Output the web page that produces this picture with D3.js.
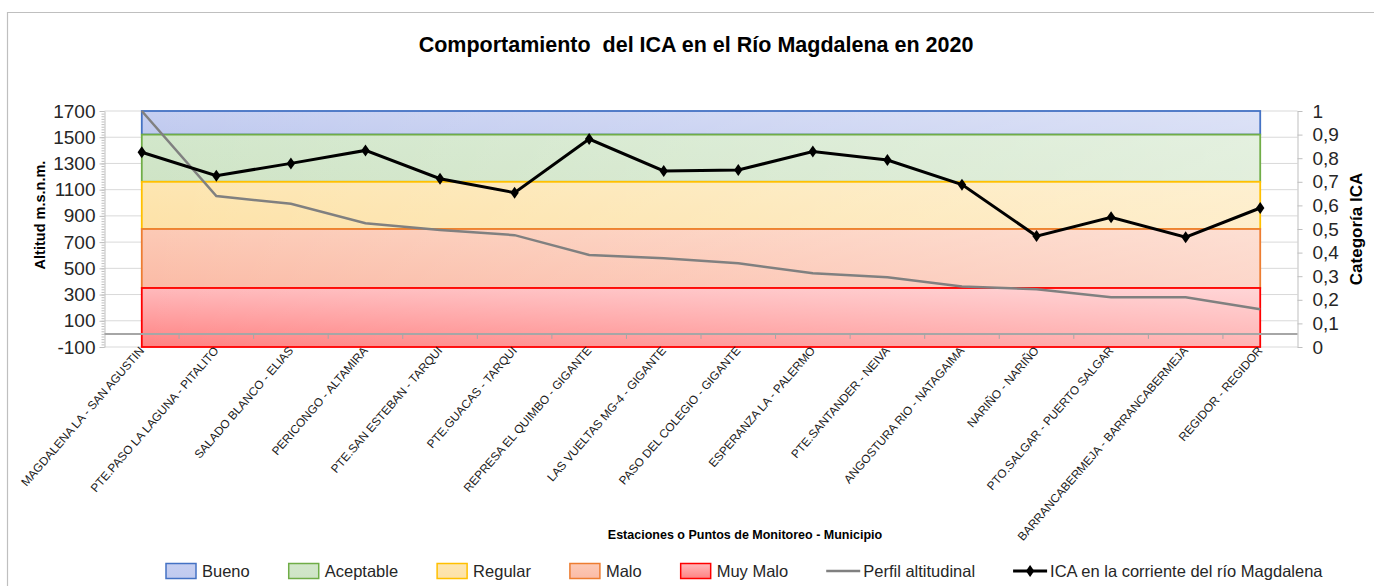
<!DOCTYPE html>
<html>
<head>
<meta charset="utf-8">
<script src="https://cdn.jsdelivr.net/npm/d3@7"></script>
<style>
  body { margin: 0; background: #ffffff; }
  text { font-family: "Liberation Sans", Arial, sans-serif; }
</style>
</head>
<body>
<div id="chart"></div>
<script>
// data
var stations = [
    "MAGDALENA LA - SAN AGUSTIN",
    "PTE.PASO LA LAGUNA - PITALITO",
    "SALADO BLANCO - ELIAS",
    "PERICONGO - ALTAMIRA",
    "PTE.SAN ESTEBAN - TARQUI",
    "PTE.GUACAS - TARQUI",
    "REPRESA EL QUIMBO - GIGANTE",
    "LAS VUELTAS MG-4 - GIGANTE",
    "PASO DEL COLEGIO - GIGANTE",
    "ESPERANZA LA - PALERMO",
    "PTE.SANTANDER - NEIVA",
    "ANGOSTURA RIO - NATAGAIMA",
    "NARIÑO - NARIÑO",
    "PTO.SALGAR - PUERTO SALGAR",
    "BARRANCABERMEJA - BARRANCABERMEJA",
    "REGIDOR - REGIDOR"
];
var altitud = [1700, 1052, 992, 844, 793, 753, 602, 577, 539, 463, 432, 361, 341, 280, 280, 188];
var ica = [0.825, 0.726, 0.778, 0.833, 0.713, 0.654, 0.881, 0.746, 0.75, 0.828, 0.792, 0.688, 0.47, 0.55, 0.465, 0.589];

var bandNames = ["Bueno", "Aceptable", "Regular", "Malo", "Muy Malo"];
var bandLow = [0.9, 0.7, 0.5, 0.25, 0];
var bandHigh = [1, 0.9, 0.7, 0.5, 0.25];

var leftTicks = [-100, 100, 300, 500, 700, 900, 1100, 1300, 1500, 1700];
var rightTicks = [0, 0.1, 0.2, 0.3, 0.4, 0.5, 0.6, 0.7, 0.8, 0.9, 1];

// styles
var bandStroke = ["#4472c4", "#70ad47", "#ffc000", "#ed7d31", "#ff0000"];
var bandTop = ["#c6cff1", "#d2e7cb", "#fde6b2", "#fccab6", "#ffbabc"];
var bandBottom = ["#c0caef", "#cfe4c6", "#fde2a8", "#fbbba6", "#ff8282"];

var svgWidth = 1374;
var svgHeight = 586;

var plot = {left: 104.5, right: 1297.5, top: 111, bottom: 347};

var svg = d3.select("#chart")
    .append("svg")
    .attr("width", svgWidth)
    .attr("height", svgHeight);

var defs = svg.append("defs");

// outer frame
svg.append("path")
    .attr("d", `M7.5,${svgHeight}V12.5H${svgWidth}`)
    .attr("fill", "none")
    .attr("stroke", "#bfbfbf")
    .attr("stroke-width", 1.2);

var xScale = d3.scaleBand()
    .domain(stations)
    .range([plot.left, plot.right]);

var cx = d => xScale(d) + xScale.bandwidth() / 2;

var yLeft = d3.scaleLinear()
    .domain([-100, 1700])
    .range([plot.bottom, plot.top]);

var yRight = d3.scaleLinear()
    .domain([0, 1])
    .range([plot.bottom, plot.top]);

// gridlines
svg.append("g")
    .selectAll("line")
    .data(leftTicks)
    .enter()
    .append("line")
    .attr("x1", plot.left)
    .attr("x2", plot.right)
    .attr("y1", d => yLeft(d))
    .attr("y2", d => yLeft(d))
    .attr("stroke", "#d9d9d9")
    .attr("stroke-width", 1);

// category bands (ICA)
bandNames.forEach(function(name, i) {
    var g = defs.append("linearGradient")
        .attr("id", "band" + i)
        .attr("x1", 0).attr("y1", 0)
        .attr("x2", 0).attr("y2", 1);
    g.append("stop").attr("offset", "0%").attr("stop-color", bandTop[i]);
    g.append("stop").attr("offset", "100%").attr("stop-color", bandBottom[i]);
});

var sheen = defs.append("linearGradient")
    .attr("id", "sheen")
    .attr("x1", 0).attr("y1", 0)
    .attr("x2", 1).attr("y2", 0);
sheen.append("stop").attr("offset", "0%").attr("stop-color", "#ffffff").attr("stop-opacity", 0);
sheen.append("stop").attr("offset", "100%").attr("stop-color", "#ffffff").attr("stop-opacity", 0.4);

var bandX0 = cx(stations[0]);
var bandX1 = cx(stations[stations.length - 1]);

var bandGroup = svg.append("g");
bandNames.forEach(function(name, i) {
    bandGroup.append("rect")
        .attr("x", bandX0)
        .attr("y", yRight(bandHigh[i]))
        .attr("width", bandX1 - bandX0)
        .attr("height", yRight(bandLow[i]) - yRight(bandHigh[i]))
        .attr("fill", "url(#band" + i + ")");
    bandGroup.append("rect")
        .attr("x", bandX0)
        .attr("y", yRight(bandHigh[i]))
        .attr("width", bandX1 - bandX0)
        .attr("height", yRight(bandLow[i]) - yRight(bandHigh[i]))
        .attr("fill", "url(#sheen)")
        .attr("stroke", bandStroke[i])
        .attr("stroke-width", 1.8);
});

// left axis
var leftAxis = d3.axisLeft(yLeft)
    .tickValues(d3.range(-100, 1701, 20))
    .tickSize(3)
    .tickSizeOuter(0)
    .tickFormat("");
var gl = svg.append("g")
    .attr("transform", `translate(${plot.left}, 0)`)
    .call(leftAxis);
gl.selectAll(".tick line").attr("stroke", "#bfbfbf");
gl.select(".domain").attr("stroke", "#bfbfbf");

var leftMajor = d3.axisLeft(yLeft)
    .tickValues(leftTicks)
    .tickSize(5)
    .tickPadding(4)
    .tickFormat(d => String(d));
var glm = svg.append("g")
    .attr("transform", `translate(${plot.left}, 0)`)
    .call(leftMajor);
glm.select(".domain").remove();
glm.selectAll(".tick line").attr("stroke", "#bfbfbf");
glm.selectAll(".tick text")
    .attr("fill", "#262626")
    .style("font-size", "19px")
    .style("font-family", "Liberation Sans, Arial, sans-serif");

// right axis
var rightAxis = d3.axisRight(yRight)
    .tickValues(rightTicks)
    .tickSize(5)
    .tickSizeOuter(0)
    .tickPadding(10)
    .tickFormat(d => String(d).replace(".", ","));
var gr = svg.append("g")
    .attr("transform", `translate(${plot.right}, 0)`)
    .call(rightAxis);
gr.selectAll(".tick line").attr("stroke", "#bfbfbf");
gr.select(".domain").attr("stroke", "#bfbfbf");
gr.selectAll(".tick text")
    .attr("fill", "#262626")
    .style("font-size", "19px")
    .style("font-family", "Liberation Sans, Arial, sans-serif");

// category axis at altitude zero
var bottomAxis = d3.axisBottom(xScale)
    .tickSize(0)
    .tickSizeOuter(0)
    .tickFormat("");
var gx = svg.append("g")
    .attr("transform", `translate(0, ${yLeft(0)})`)
    .call(bottomAxis);
gx.select(".domain").remove();
gx.selectAll(".tick").remove();

gx.append("line")
    .attr("x1", plot.left)
    .attr("x2", plot.right)
    .attr("stroke", "#a6a6a6")
    .attr("stroke-width", 2);

gx.selectAll(".bound")
    .data(stations.slice(1))
    .enter()
    .append("line")
    .attr("x1", d => xScale(d))
    .attr("x2", d => xScale(d))
    .attr("y1", 0)
    .attr("y2", 5)
    .attr("stroke", "#a6a6a6")
    .attr("stroke-width", 1);

// station labels
svg.append("g")
    .selectAll("text")
    .data(stations)
    .enter()
    .append("text")
    .attr("transform", d => `translate(${cx(d) + 3}, ${plot.bottom + 4}) rotate(-49)`)
    .attr("text-anchor", "end")
    .attr("fill", "#1a1a1a")
    .style("font-size", "11.8px")
    .text(d => d);

// altitude profile
var altLine = d3.line()
    .x((d, i) => cx(stations[i]))
    .y(d => yLeft(d));

svg.append("path")
    .datum(altitud)
    .attr("d", altLine)
    .attr("fill", "none")
    .attr("stroke", "#808080")
    .attr("stroke-width", 2.5);

// ICA line
var icaLine = d3.line()
    .x((d, i) => cx(stations[i]))
    .y(d => yRight(d));

svg.append("path")
    .datum(ica)
    .attr("d", icaLine)
    .attr("fill", "none")
    .attr("stroke", "#000000")
    .attr("stroke-width", 3);

var diamond = "M0,-6L4.2,0L0,6L-4.2,0Z";

svg.append("g")
    .selectAll("path")
    .data(ica)
    .enter()
    .append("path")
    .attr("d", diamond)
    .attr("transform", (d, i) => `translate(${cx(stations[i])}, ${yRight(d)})`)
    .attr("fill", "#000000");

// titles
svg.append("text")
    .attr("x", 696)
    .attr("y", 52)
    .attr("text-anchor", "middle")
    .style("font-size", "21.5px")
    .style("font-weight", "bold")
    .attr("fill", "#000000")
    .attr("xml:space", "preserve")
    .text("Comportamiento  del ICA en el Río Magdalena en 2020");

svg.append("text")
    .attr("transform", "translate(45, 215) rotate(-90)")
    .attr("text-anchor", "middle")
    .style("font-size", "14.5px")
    .style("font-weight", "bold")
    .attr("fill", "#000000")
    .text("Altitud m.s.n.m.");

svg.append("text")
    .attr("transform", "translate(1362, 229) rotate(-90)")
    .attr("text-anchor", "middle")
    .style("font-size", "17px")
    .style("font-weight", "bold")
    .attr("fill", "#000000")
    .text("Categoría ICA");

svg.append("text")
    .attr("x", 745)
    .attr("y", 539)
    .attr("text-anchor", "middle")
    .style("font-size", "12.5px")
    .style("font-weight", "bold")
    .attr("fill", "#000000")
    .text("Estaciones o Puntos de Monitoreo - Municipio");

// legend
var legendItems = bandNames.concat(["Perfil altitudinal", "ICA en la corriente del río Magdalena"]);
var legend = svg.append("g");
var lx = 165;
var ly = 571;
legendItems.forEach(function(name, i) {
    var item = legend.append("g").attr("transform", `translate(${lx}, ${ly})`);
    if (i < bandNames.length) {
        item.append("rect")
            .attr("x", 1).attr("y", -7.5)
            .attr("width", 30).attr("height", 15)
            .attr("fill", "url(#band" + i + ")")
            .attr("stroke", bandStroke[i])
            .attr("stroke-width", 1.5);
    } else if (i === bandNames.length) {
        item.append("line")
            .attr("x1", 0).attr("x2", 34)
            .attr("stroke", "#808080").attr("stroke-width", 2.5);
    } else {
        item.append("line")
            .attr("x1", 0).attr("x2", 34)
            .attr("stroke", "#000000").attr("stroke-width", 3);
        item.append("path")
            .attr("d", diamond)
            .attr("transform", "translate(17, 0)")
            .attr("fill", "#000000");
    }
    var t = item.append("text")
        .attr("x", 37)
        .attr("y", 6)
        .style("font-size", "16.5px")
        .attr("fill", "#262626")
        .text(name);
    lx += 37 + t.node().getComputedTextLength() + 38;
});
</script>
</body>
</html>
